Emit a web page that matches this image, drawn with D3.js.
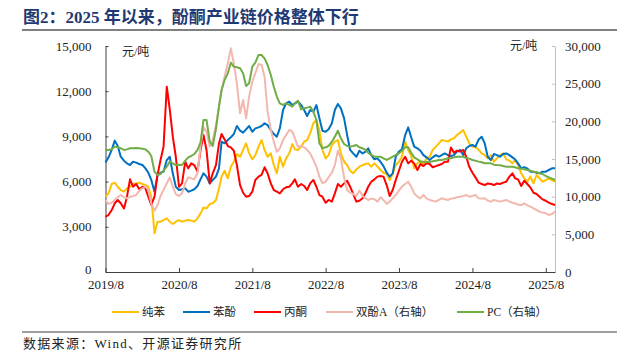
<!DOCTYPE html>
<html>
<head>
<meta charset="utf-8">
<script src="https://cdn.jsdelivr.net/npm/d3@7"></script>
<style>
  body { margin: 0; background: #fff; }
  text { font-family: "Liberation Serif", "Noto Sans CJK SC", serif; }
</style>
</head>
<body>
<script>
// half-month points, 2019/8 .. 2025/9
var benzene = [5000,5220,5840,5930,5660,5440,5330,5550,5660,5840,5880,5930,5840,5770,5660,5000,2570,3340,3340,3450,3560,3340,3190,3340,3450,3340,3410,3450,3410,3340,3560,3890,4290,4220,4510,4560,
  4780,5550,6330,6720,6220,6990,7320,7830,7650,8100,8540,7880,7480,7760,8320,8760,8100,7650,7880,7100,6550,7650,6990,7540,7880,8490,8140,8100,8320,8650,8760,9200,9870,10090,
  9380,8100,7540,7760,8430,8650,8760,7880,7320,7100,6720,6550,6810,6990,7100,7170,7210,6990,7210,6990,6770,6590,6500,6100,6500,7100,7320,7650,8650,8100,7700,6880,7210,7390,7100,7540,
  7650,8100,8320,8540,8760,8720,8650,8800,8870,9090,9250,9420,8980,8540,8320,8320,8100,7880,7760,7540,7760,7320,7540,7760,7880,7480,7390,7210,7430,7100,6550,6220,5990,6330,5880,6440,6220,5990,6100,6220,6100,5990];
var phenol = [7260,7610,8100,8720,8360,7650,7390,7210,7100,7320,7260,7170,7100,6880,6590,6110,5330,6440,6590,6660,7430,7650,6550,5660,5440,5490,5550,5330,5400,5490,5710,6150,6550,6330,5880,6110,
  6330,6880,8650,8540,8760,8940,9160,9690,9380,9250,9470,9690,9310,9530,9600,9690,9870,9750,9420,9160,8980,9530,10750,11190,11300,11080,11190,11300,11080,10750,10350,10750,10640,11080,
  10200,9380,9310,9470,9870,10750,11150,10860,10200,9090,8100,7870,7650,8050,7870,7990,8210,7760,7480,7540,7320,7030,6590,6330,6550,7650,7990,8140,9090,9600,8940,8320,8210,8050,7760,7610,
  7430,7610,7760,7650,7760,7870,7760,7700,7760,7990,8100,7760,8210,8360,8430,8320,8800,8980,8540,7650,7430,7830,7760,7650,7830,7870,7760,7610,7480,7210,6880,6950,6880,6660,6660,6590,6550,6660,6660,6770,6880,6880];
var acetone = [3670,3780,4110,4560,4780,4560,4220,5000,6150,5660,5840,5490,5660,5550,5000,4450,5000,6440,7430,8320,12300,10800,9000,7650,5660,5880,7320,6880,7210,7100,6660,8100,9090,8100,5880,6550,
  7100,8540,9160,8800,8360,8270,8050,7100,5770,5260,5000,5040,5330,6110,6330,6440,6950,6550,5880,5440,5330,5220,5490,5620,5660,5880,6150,5660,5840,5710,5440,5880,6110,5660,
  5110,5000,4600,4780,4670,5220,5840,5660,5880,6060,5660,5180,4670,4730,4890,5260,5660,5990,6150,6330,6370,6330,5770,5040,5440,6100,6720,7320,7650,7210,7390,7210,6770,7170,7030,7210,
  7170,6950,7030,7100,7170,7320,7320,8270,7920,8050,7990,8100,7650,6990,6590,6280,5930,5840,5770,5880,5840,5770,5880,5840,5930,5990,6330,6550,6220,6150,5710,6060,5840,5620,5260,5180,5000,4820,4730,4600,4510,4450];
var bpa = [9560,9030,9200,9560,9910,10220,9910,9780,10000,10090,10220,10800,11110,11330,10890,9120,8140,8890,10090,10890,11770,12570,11330,10350,10090,10440,11770,12570,12430,12300,13100,16640,19200,18630,16640,17520,
  19510,21950,24160,25930,27700,29690,27700,25050,21060,22830,20400,23280,25270,26370,27610,27480,25930,21280,18850,17300,15970,16420,17520,18190,18850,18630,17740,16640,16730,16550,16200,15750,14870,13980,
  12660,11770,11990,12570,13190,14200,16110,15090,12570,10890,10530,10350,10090,10800,10090,9780,9560,9740,9650,9340,9910,9560,9030,9340,9780,10220,10800,11330,11680,11990,11330,10440,10000,9780,10220,9780,
  9560,9470,9340,9560,9780,9650,9560,9740,9780,9910,10000,10090,10220,10000,10090,10220,9780,9740,9780,9470,9340,9560,9470,9340,9470,9560,9340,9200,9120,8940,8890,9120,8850,8670,8450,8230,8010,7880,7790,7570,7700,8010];
var pc = [16200,16200,16280,16640,16550,16420,16200,16280,16420,16420,16460,16420,16370,16280,15970,15400,13320,12880,13010,13450,13980,14650,14430,14200,14250,14200,14780,15220,15400,15660,16200,17170,20180,20180,17300,16730,
  19000,21950,24160,25490,26370,27790,27260,27170,27040,26370,24690,25050,27260,27790,28810,28810,28360,27480,26150,24600,23280,22390,22170,22390,22170,21950,22390,22740,21590,21730,21820,21950,21280,20180,
  17080,16420,16550,16730,17300,17970,18760,17740,16990,16730,16640,16730,16860,16550,16420,16200,15840,15530,15310,15310,15310,15090,14870,15090,15310,15530,15750,16110,16550,16550,15840,15220,14960,14650,14650,14600,
  14600,14690,14780,14870,14870,14960,15090,15090,15220,15310,15310,15310,15130,15050,14870,14780,14650,14560,14430,14430,14430,14250,14200,14160,14070,13980,13980,13980,13900,13760,13720,13630,13540,13450,13320,13270,13100,13010,12740,12570,12390,12210];

var seriesNames = ["纯苯", "苯酚", "丙酮", "双酚A（右轴）", "PC（右轴）"];
var seriesColors = ["#FFC000", "#0070C0", "#FF0000", "#F2B8AE", "#70AD47"];
var leftTicks = [0, 3000, 6000, 9000, 12000, 15000];
var rightTicks = [0, 5000, 10000, 15000, 20000, 25000, 30000];
var xTickYears = [2019, 2020, 2021, 2022, 2023, 2024, 2025];

var start = new Date(2019, 7, 1);
var dates = benzene.map(function(d, i) {
  var m = d3.timeMonth.offset(start, Math.floor(i / 2));
  return new Date(m.getFullYear(), m.getMonth(), i % 2 ? 16 : 1);
});

var W = 639, H = 363;
var plot = {left: 105.5, right: 555, top: 46, bottom: 272};

var svg = d3.select("body").append("svg")
    .attr("width", W)
    .attr("height", H);

var x = d3.scaleTime()
    .domain([start, dates[dates.length - 1]])
    .range([plot.left, plot.right]);
var yL = d3.scaleLinear().domain([0, 15000]).range([plot.bottom, plot.top]);
var yR = d3.scaleLinear().domain([0, 30000]).range([plot.bottom, plot.top]);

// title
svg.append("text")
    .attr("x", 23)
    .attr("y", 23)
    .style("font-size", "17px")
    .style("font-weight", "bold")
    .style("fill", "#1f3a73")
    .text("图2：2025 年以来，酚酮产业链价格整体下行");

svg.append("line")
    .attr("x1", 22).attr("x2", 617)
    .attr("y1", 30).attr("y2", 30)
    .attr("stroke", "#808080")
    .attr("stroke-width", 2);

// axes
var fmt = d3.format(",");

var gL = svg.append("g")
    .attr("transform", "translate(" + plot.left + ",0)")
    .call(d3.axisLeft(yL).tickValues(leftTicks).tickFormat(fmt).tickSize(-3).tickSizeOuter(0).tickPadding(14));
gL.select(".domain").attr("stroke", "#404040");
gL.selectAll(".tick line").attr("stroke", "#404040");

var gR = svg.append("g")
    .attr("transform", "translate(" + plot.right + ",0)")
    .call(d3.axisRight(yR).tickValues(rightTicks).tickFormat(fmt).tickSize(-3).tickSizeOuter(0).tickPadding(10));
gR.select(".domain").attr("stroke", "#bfbfbf");
gR.selectAll(".tick line").attr("stroke", "#bfbfbf");

var gB = svg.append("g")
    .attr("transform", "translate(0," + plot.bottom + ")")
    .call(d3.axisBottom(x)
      .tickValues(xTickYears.map(function(y) { return new Date(y, 7, 1); }))
      .tickFormat(d3.timeFormat("%Y/%-m"))
      .tickSize(-4).tickSizeOuter(0).tickPadding(8));
gB.select(".domain").attr("stroke", "#404040");
gB.selectAll(".tick line").attr("stroke", "#404040");

svg.selectAll(".tick text")
    .style("font-family", "Liberation Serif")
    .style("font-size", "13px")
    .style("fill", "#222");

// left "0" sits a bit higher so it clears the date labels
gL.selectAll(".tick text").filter(function(d) { return d === 0; }).attr("dy", "0.1em");

// unit labels
svg.append("text")
    .attr("x", 122).attr("y", 56)
    .style("font-size", "12px").style("fill", "#222")
    .text("元/吨");
svg.append("text")
    .attr("x", 510).attr("y", 50)
    .style("font-size", "12px").style("fill", "#222")
    .text("元/吨");

// lines
var allSeries = [
  {values: benzene, y: yL},
  {values: phenol, y: yL},
  {values: acetone, y: yL},
  {values: bpa, y: yR},
  {values: pc, y: yR}
];

allSeries.forEach(function(s, k) {
  var line = d3.line()
      .x(function(d, i) { return x(dates[i]); })
      .y(function(d) { return s.y(d); });
  svg.append("path")
      .datum(s.values)
      .attr("fill", "none")
      .attr("stroke", seriesColors[k])
      .attr("stroke-width", 2)
      .attr("stroke-linejoin", "round")
      .attr("d", line);
});

// legend
var legendX = [112, 183, 254, 326, 457];
var leg = svg.append("g");
seriesNames.forEach(function(name, k) {
  leg.append("line")
      .attr("x1", legendX[k]).attr("x2", legendX[k] + 27)
      .attr("y1", 312).attr("y2", 312)
      .attr("stroke", seriesColors[k])
      .attr("stroke-width", 2);
  leg.append("text")
      .attr("x", legendX[k] + 30).attr("y", 316)
      .style("font-size", "11.5px").style("fill", "#222")
      .text(name);
});

// source
svg.append("line")
    .attr("x1", 22).attr("x2", 617)
    .attr("y1", 332).attr("y2", 332)
    .attr("stroke", "#404040")
    .attr("stroke-width", 1.2);

svg.append("text")
    .attr("x", 23).attr("y", 348)
    .style("font-size", "13px")
    .style("letter-spacing", "1.3px")
    .style("fill", "#222")
    .text("数据来源：Wind、开源证券研究所");
</script>
</body>
</html>
